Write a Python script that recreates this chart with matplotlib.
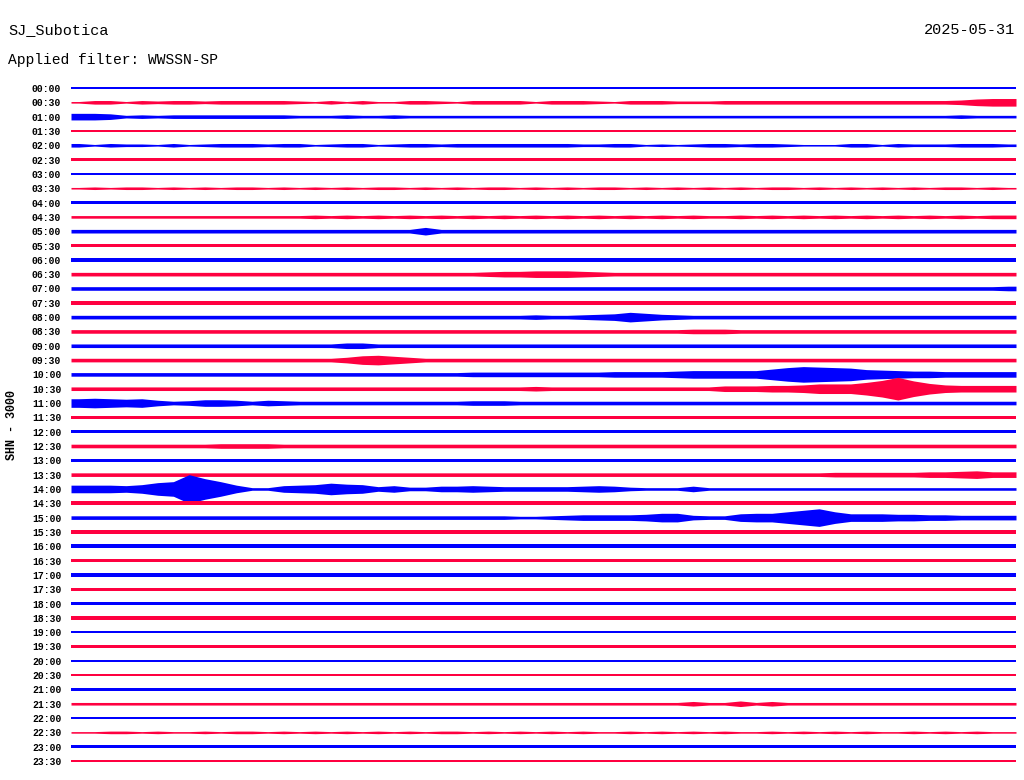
import numpy as np
import matplotlib
matplotlib.use("Agg")
import matplotlib.pyplot as plt

# helicorder page, one line per 30 minutes
station = "SJ_Subotica"
day = "2025-05-31"
filter_text = "Applied filter: WWSSN-SP"
channel = "SHN - 3000"

row_labels = ["00:00", "00:30", "01:00", "01:30", "02:00", "02:30", "03:00", "03:30",
              "04:00", "04:30", "05:00", "05:30", "06:00", "06:30", "07:00", "07:30",
              "08:00", "08:30", "09:00", "09:30", "10:00", "10:30", "11:00", "11:30",
              "12:00", "12:30", "13:00", "13:30", "14:00", "14:30", "15:00", "15:30",
              "16:00", "16:30", "17:00", "17:30", "18:00", "18:30", "19:00", "19:30",
              "20:00", "20:30", "21:00", "21:30", "22:00", "22:30", "23:00", "23:30"]

# trace thickness (px, base 36), one char per 30 s
envelopes = [
    "2222222222 2222222222 2222222222 2222222222 2222222222 2222222222",  # 00:00
    "1331323323 3333213131 1332133331 3332133322 2333333333 3333334677",  # 00:30
    "6652323333 3333222322 3222222222 2222222222 2222222222 2222223222",  # 01:00
    "2222222222 2222222222 2222222222 2222222222 2222222222 2222222222",  # 01:30
    "3132213123 3323312331 2332333333 3322331212 3323321113 3132223332",  # 02:00
    "2222222222 2222222222 2222222222 2222222222 2222222222 2222222222",  # 02:30
    "2222222222 2222222222 2222222222 2222222222 2222222222 2222222222",  # 03:00
    "1212212121 2212121212 2121212212 1212212121 2121221212 1212122121",  # 03:30
    "2222222222 2222222222 2222222222 2222222222 2222222222 2222222222",  # 04:00
    "2222222222 2222232323 2323232323 2323232323 2232323232 3232323233",  # 04:30
    "3333333333 3333333333 3373333333 3333333333 3333333333 3333333333",  # 05:00
    "3333333333 3333333333 3333333333 3333333333 3333333333 3333333333",  # 05:30
    "3333333333 3333333333 3333333333 3333333333 3333333333 3333333333",  # 06:00
    "3333333333 3333333333 3333334556 6654333333 3333333333 3333333333",  # 06:30
    "3333333333 3333333333 3333333333 3333333333 3333333333 3333333334",  # 07:00
    "3333333333 3333333333 3333333333 3333333333 3333333333 3333333333",  # 07:30
    "3333333333 3333333333 3333333334 3345697543 3333333333 3333333333",  # 08:00
    "3333333333 3333333333 3333333333 3333333334 4433333333 3333333333",  # 08:30
    "3333333333 3333333553 3333333333 3333333333 3333333333 3333333333",  # 09:00
    "3333333333 3333333589 7533333333 3333333333 3333333333 3333333333",  # 09:30
    "3333333333 3333333333 3333344444 4444555567 7777adfedc 9876655555",  # 10:00
    "3333333333 3333333333 3333333334 3333333333 3555667999 cgmfa76666",  # 10:30
    "8987853466 5354333333 3333344433 3333333333 3333333333 3333333333",  # 11:00
    "3333333333 3333333333 3333333333 3333333333 3333333333 3333333333",  # 11:30
    "3333333333 3333333333 3333333333 3333333333 3333333333 3333333333",  # 12:00
    "3333333334 4443333333 3333333333 3333333333 3333333333 3333333333",  # 12:30
    "3333333333 3333333333 3333333333 3333333333 3333333333 3333333333",  # 13:00
    "3333333333 3333333333 3333333333 3333333333 3333333344 4444556755",  # 13:30
    "77768ceske 722678b984 6335565444 4456532225 2222222222 2222222222",  # 14:00
    "3333333333 3333333333 3333333333 3333333333 3333333333 3333333333",  # 14:30
    "3333333333 3333333333 3333333322 3455556884 33788behb7 7766554444",  # 15:00
    "3333333333 3333333333 3333333333 3333333333 3333333333 3333333333",  # 15:30
    "3333333333 3333333333 3333333333 3333333333 3333333333 3333333333",  # 16:00
    "3333333333 3333333333 3333333333 3333333333 3333333333 3333333333",  # 16:30
    "3333333333 3333333333 3333333333 3333333333 3333333333 3333333333",  # 17:00
    "2222222222 2222222222 2222222222 2222222222 2222222222 2222222222",  # 17:30
    "3333333333 3333333333 3333333333 3333333333 3333333333 3333333333",  # 18:00
    "3333333333 3333333333 3333333333 3333333333 3333333333 3333333333",  # 18:30
    "2222222222 2222222222 2222222222 2222222222 2222222222 2222222222",  # 19:00
    "3333333333 3333333333 3333333333 3333333333 3333333333 3333333333",  # 19:30
    "2222222222 2222222222 2222222222 2222222222 2222222222 2222222222",  # 20:00
    "2222222222 2222222222 2222222222 2222222222 2222222222 2222222222",  # 20:30
    "3333333333 3333333333 3333333333 3333333333 3333333333 3333333333",  # 21:00
    "2222222222 2222222222 2222222222 2222222224 2252422222 2222222222",  # 21:30
    "2222222222 2222222222 2222222222 2222222222 2222222222 2222222222",  # 22:00
    "1122121121 2212121212 1212212121 2121121212 1211212121 2112121211",  # 22:30
    "2222222222 2222222222 2222222222 2222222222 2222222222 2222222222",  # 23:00
    "2222222222 2222222222 2222222222 2222222222 2222222222 2222222222",  # 23:30
]

colors = ["#0000ff", "#ff0040"]   # alternating rows
minutes_per_row = 30
row_px = 14.32                    # row spacing on the page, pixels
pen_px = 0.6                      # extra pen width added to every trace

plt.rcParams['font.family'] = ['Liberation Mono', 'DejaVu Sans Mono']

W, H = 1024, 780
fig = plt.figure(figsize=(W / 100, H / 100), dpi=100, facecolor="white")
# plot area: x 71..1016 px, y 80..770 px
ax = fig.add_axes([71 / W, (H - 770) / H, (1016 - 71) / W, 690 / H])
ax.set_facecolor("white")

for i, env in enumerate(envelopes):
    vals = np.array([int(c, 36) for c in "".join(env.split())], dtype=float)
    n = len(vals)
    step = minutes_per_row / n
    # one point per segment centre, plus the two ends of the line
    x = np.concatenate([[0], (np.arange(n) + 0.5) * step, [minutes_per_row]])
    half = (np.concatenate([[vals[0]], vals, [vals[-1]]]) + pen_px) / 2.0 / row_px
    ax.fill_between(x, i - half, i + half, color=colors[i % 2],
                    linewidth=0, antialiased=False)

ax.set_xlim(0, minutes_per_row)
ax.set_ylim((770 - 88) / row_px, (80 - 88) / row_px)
ax.set_xticks([])
ax.set_yticks(range(len(row_labels)))
ax.set_yticklabels(row_labels, fontweight="bold")
ax.tick_params(axis="y", length=0, pad=7, labelsize=7)
for s in ax.spines.values():
    s.set_visible(False)

fig.text(8 / W, 1 - 30 / H, station, ha="left", va="center", fontsize=11)
fig.text(1015 / W, 1 - 30 / H, day, ha="right", va="center", fontsize=11)
fig.text(8 / W, 1 - 60 / H, filter_text, ha="left", va="center", fontsize=10.5)
fig.text(12 / W, 1 - 425 / H, channel, ha="center", va="center",
         rotation=90, fontsize=8.5, fontweight="bold")

fig.savefig("out.png", dpi=100, facecolor="white")
